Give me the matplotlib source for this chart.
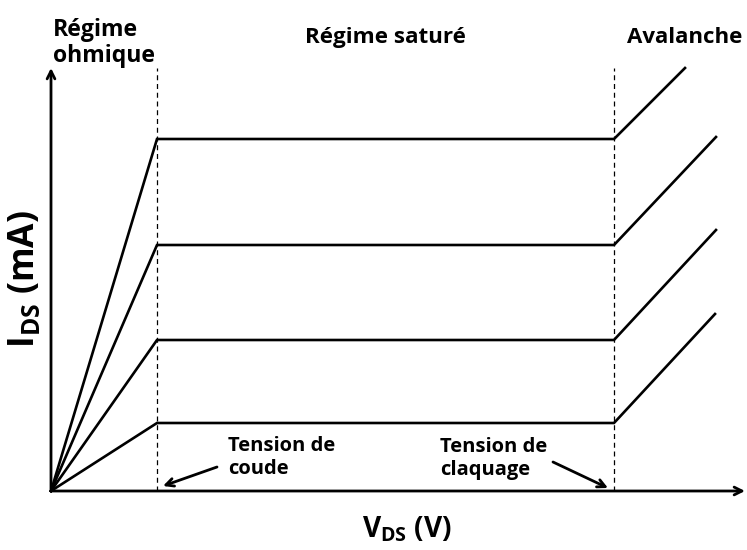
import matplotlib.pyplot as plt

# Schematic I-V characteristics (arbitrary units)
v_knee = 106
v_breakdown = 563
i_sat = [352, 246, 151, 68]
v_aval_end = [634, 665, 665, 664]
i_aval_end = [423, 354, 261, 177]

region_labels = ["Régime\nohmique", "Régime saturé", "Avalanche"]
annot_labels = ["Tension de\ncoude", "Tension de\nclaquage"]
xlabel = r'V$_{\mathbf{DS}}$ (V)'
ylabel = r'I$_{\mathbf{DS}}$ (mA)'

plt.rcParams['font.family'] = ['Open Sans', 'DejaVu Sans']
plt.rcParams['mathtext.fontset'] = 'custom'
plt.rcParams['mathtext.rm'] = 'Open Sans'
plt.rcParams['mathtext.bf'] = 'Open Sans:bold'
W, H = 747, 550
fig = plt.figure(figsize=(W / 100, H / 100), dpi=100)
ax = fig.add_axes([51/W, 59/H, 694/W, 423/H])
ax.set_xlim(0, 694)
ax.set_ylim(0, 423)
for s in ax.spines.values():
    s.set_visible(False)
ax.set_xticks([])
ax.set_yticks([])

for isat, ve, ie in zip(i_sat, v_aval_end, i_aval_end):
    ax.plot([0, v_knee, v_breakdown, ve], [0, isat, isat, ie],
            color='black', lw=1.9, solid_joinstyle='miter', clip_on=False)

for v in (v_knee, v_breakdown):
    ax.plot([v, v], [0, 423], color='black', lw=0.9, ls=(0, (4, 3)), clip_on=False)

arrow_kw = dict(arrowstyle='->', lw=2, color='black', mutation_scale=14, shrinkA=0, shrinkB=0)
ax.annotate('', xy=(1.0, 0), xytext=(0, 0), xycoords='axes fraction', arrowprops=arrow_kw)
ax.annotate('', xy=(0, 1.0), xytext=(0, 0), xycoords='axes fraction', arrowprops=arrow_kw)

ax.annotate('', xy=(163 - 51, 491 - 486), xytext=(217 - 51, 491 - 467),
            arrowprops=arrow_kw, annotation_clip=False)
ax.annotate('', xy=(608 - 51, 491 - 488), xytext=(553 - 51, 491 - 462),
            arrowprops=arrow_kw, annotation_clip=False)

renderer = fig.canvas.get_renderer()


def fit_text(s, box, rotation=0, linespacing=1.2, fit='w'):
    """box = (x0, y0, x1, y1) in pixels from top-left."""
    x0, y0, x1, y1 = box
    cx, cy = (x0 + x1) / 2, (y0 + y1) / 2
    t = fig.text(cx / W, 1 - cy / H, s, ha='center', va='center', rotation=rotation,
                 fontsize=14, fontweight='bold', linespacing=linespacing,
                 multialignment='left')
    for _ in range(3):
        bb = t.get_window_extent(renderer)
        if fit == 'w':
            scale = (x1 - x0) / bb.width
        else:
            scale = (y1 - y0) / bb.height
        t.set_fontsize(t.get_fontsize() * scale)
    return t


fit_text(region_labels[0], (53, 18, 155, 68), linespacing=1.1)
fit_text(region_labels[1], (305, 28, 465, 48))
fit_text(region_labels[2], (627, 28, 743, 47))
fit_text(annot_labels[0], (228, 435, 335, 480), linespacing=1.15)
fit_text(annot_labels[1], (440, 435, 547, 482), linespacing=1.15)
fit_text(ylabel, (12, 210, 38, 348), rotation=90, fit='h')
fit_text(xlabel, (362, 520, 452, 538))

fig.savefig('out.png', dpi=100)
